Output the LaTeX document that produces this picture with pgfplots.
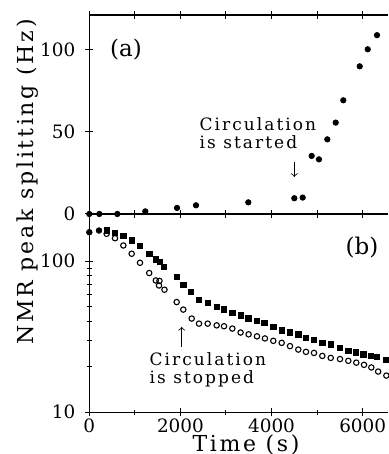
\documentclass[border=0pt]{standalone}
\usepackage{pgfplots}
\pgfplotsset{compat=1.18}
\usepackage{fontspec}
\setmainfont{DejaVu Serif}
\newfontfamily\lsfont[LetterSpace=12.5]{DejaVu Serif}
\newfontfamily\lsfontb[LetterSpace=12]{DejaVu Serif}
\newfontfamily\lsfontc[LetterSpace=12]{DejaVu Serif}
\begin{document}
\begin{tikzpicture}
\pgfplotsset{
  every axis/.append style={
    scale only axis, width=149.35pt,
    xmin=0, xmax=6556,
    axis y line*=left, axis x line*=box,
    tick align=center,
    major tick length=4pt, minor tick length=2.5pt,
    every tick/.style={black, line width=0.5pt},
    axis line style={line width=0.6pt},
    /pgf/number format/assume math mode=true,
    /pgf/number format/set thousands separator={},
    tick label style={font=\fontsize{9.2}{10}\selectfont},
    ytick pos=left,
  }
}
% panel (b)
\begin{axis}[name=b, at={(0,0)}, anchor=south west, height=99.15pt,
  ymode=log, ymin=10, ymax=205,
  xtick={0,2000,4000,6000}, minor xtick={1000,3000,5000},
  ytick={10,100}, minor ytick={20,30,40,50,60,70,80,90},
  log ticks with fixed point,
  xticklabel style={yshift=2.5pt},
  yticklabel style={xshift=-1.5pt}]
\addplot[only marks, mark=square*, mark size=1.35pt, black] coordinates {
(380,159.4)(564,153.9)(747,146.3)(930,136.9)(1113,125.6)(1315,111.9)(1457,102.6)
(1552,98.5)(1640,91.2)(1918,78.4)(2063,69.8)(2232,62.4)(2408,55.6)(2599,52.8)
(2796,49.7)(2957,47.8)(3139,45.4)(3323,43.8)(3490,41.7)(3674,40.2)(3841,39.0)
(4039,36.7)(4223,34.9)(4405,33.7)(4587,32.7)(4756,31.0)(4932,30.0)(5114,28.8)
(5299,28.1)(5503,26.7)(5685,25.5)(5854,24.9)(6014,24.1)(6176,23.6)(6308,23.3)(6512,22.2)};
\addplot[only marks, mark=o, mark size=1.35pt, black, mark options={line width=0.55pt}] coordinates {
(380,151.6)(564,141.8)(747,126.9)(930,111.9)(1113,97.5)(1315,83.4)(1460,74.5)
(1540,74.0)(1530,69.0)(1650,64.7)(1918,53.6)(2063,47.8)(2248,41.7)(2408,38.6)
(2599,38.6)(2796,37.6)(2957,37.1)(3139,35.8)(3321,33.7)(3497,32.8)(3680,31.8)
(3855,30.8)(4038,29.7)(4223,28.8)(4405,27.4)(4587,26.0)(4756,25.1)(4932,24.7)
(5114,23.6)(5299,22.9)(5503,22.5)(5685,21.9)(5860,21.3)(6030,20.6)(6190,19.8)
(6340,18.6)(6520,17.5)};
\addplot[only marks, mark=*, mark size=1.4pt, black] coordinates {(0,155.3)(213,159.4)};
\node[font=\fontsize{11.5}{12}\selectfont] at (axis cs:5985,123) {(b)};
\node[anchor=west, align=left, font=\lsfontc\fontsize{8.5}{9}\selectfont, inner sep=0pt] at (axis cs:1317,19.0) {Circulation\\is stopped};
\draw[->, line width=0.4pt] (axis cs:2028,27.1) -- (axis cs:2028,36.7);
\end{axis}
% panel (a)
\begin{axis}[at={(0,99.15pt)}, anchor=south west, height=99.5pt,
  ymin=0, ymax=121.3,
  xtick={0,1000,...,6000}, xticklabels={},
  ytick={0,50,100},
  yticklabel style={xshift=-1.5pt}]
\addplot[only marks, mark=*, mark size=1.35pt, black] coordinates {
(0,0)(220,0)(615,0)(1229,1.6)(1925,3.7)(2342,5.3)(3490,7.1)(4500,9.6)(4684,10)
(4881,35.4)(5041,33.3)(5224,45.5)(5408,55.7)(5575,69.3)(5935,90)(6111,100.4)(6315,109)};
\node[font=\fontsize{11.5}{12}\selectfont] at (axis cs:805,100) {(a)};
\node[anchor=west, align=left, font=\lsfontc\fontsize{8.5}{9}\selectfont, inner sep=0pt] at (axis cs:2414,49.4) {Circulation\\is started};
\draw[->, line width=0.4pt] (axis cs:4500,31.7) -- (axis cs:4500,22.6);
\end{axis}
\node[rotate=90, font=\lsfont\fontsize{11}{12}\selectfont] at (-30.65pt,115.15pt) {NMR peak splitting (Hz)};
\node[anchor=base, font=\lsfontb\fontsize{11}{12}\selectfont] at (78.35pt,-19.35pt) {Time (s)};
\pgfresetboundingbox
\path (-44.65pt,-20.85pt) rectangle (149.35pt,206.15pt);
\end{tikzpicture}
\end{document}
